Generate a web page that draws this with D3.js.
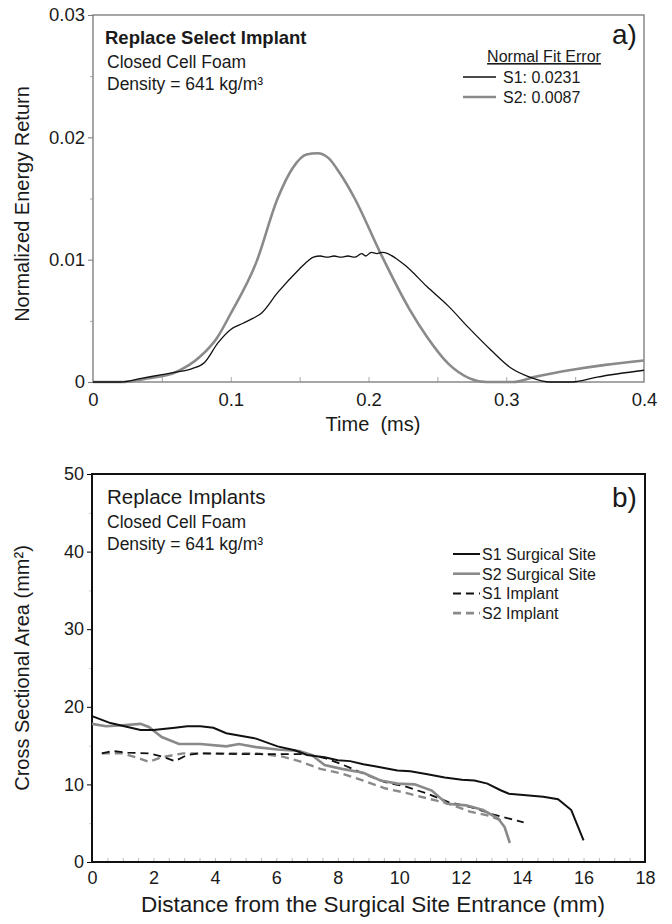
<!DOCTYPE html>
<html>
<head>
<meta charset="utf-8">
<script src="https://cdn.jsdelivr.net/npm/d3@7"></script>
<style>
  body { margin: 0; background: #fff; }
  text { font-family: "Liberation Sans", Arial, sans-serif; fill: #1a1a1a; }
</style>
</head>
<body>
<svg id="fig" width="672" height="924"></svg>
<script>
// ---- panel a: energy return vs time ----
const timeTicks = [0, 0.1, 0.2, 0.3, 0.4]
const energyTicks = [0, 0.01, 0.02, 0.03]

// S1, black thin line (time ms, normalized energy)
const s1Energy = [
  [0, 0], [0.02, 0], [0.035, 0.0003], [0.05, 0.0006], [0.06, 0.0008], [0.072, 0.0011],
  [0.081, 0.0016], [0.0907, 0.0032], [0.1, 0.0043], [0.109, 0.0048], [0.116, 0.0052],
  [0.122, 0.0056], [0.134, 0.0073], [0.1495, 0.0092], [0.156, 0.0099], [0.16, 0.0102],
  [0.165, 0.0103], [0.17, 0.0102], [0.175, 0.0103], [0.18, 0.0102], [0.185, 0.0103],
  [0.19, 0.0102], [0.195, 0.0105], [0.198, 0.0103], [0.202, 0.0106], [0.206, 0.0105],
  [0.21, 0.0106], [0.214, 0.0105], [0.22, 0.0101], [0.227, 0.0095], [0.2424, 0.0078],
  [0.258, 0.0062], [0.273, 0.0044], [0.289, 0.0026], [0.304, 0.0011], [0.317, 0.0004],
  [0.332, 0], [0.348, 0], [0.366, 0.0004], [0.4, 0.00096]
]

// S2, gray thick line
const s2Energy = [
  [0, 0], [0.0226, 0], [0.04, 0.0003], [0.06, 0.0008], [0.078, 0.0021], [0.09, 0.0036],
  [0.1, 0.0056], [0.1186, 0.0098], [0.134, 0.015], [0.145, 0.0175], [0.155, 0.0186],
  [0.163, 0.0187], [0.171, 0.0183], [0.179, 0.0171], [0.19, 0.015], [0.2084, 0.0106],
  [0.23, 0.0059], [0.2424, 0.0037], [0.2579, 0.0015], [0.2734, 0.0003], [0.2858, 0],
  [0.305, 0], [0.32, 0.0004], [0.348, 0.001], [0.372, 0.0014], [0.4, 0.00176]
]

const fitErrors = ["S1: 0.0231", "S2: 0.0087"]

// ---- panel b: cross sectional area vs distance ----
const distTicks = [0, 2, 4, 6, 8, 10, 12, 14, 16, 18]
const areaTicks = [0, 10, 20, 30, 40, 50]

const s1Site = [
  [0, 18.8], [0.6, 17.9], [1.16, 17.4], [1.58, 17.0], [2.0, 17.0], [2.7, 17.3], [3.1, 17.5],
  [3.53, 17.5], [3.95, 17.3], [4.37, 16.6], [4.78, 16.3], [5.34, 15.9], [6.04, 14.9],
  [6.6, 14.4], [7.0, 13.8], [7.57, 13.5], [8.0, 13.1], [8.4, 13.0], [8.83, 12.6], [9.25, 12.3],
  [9.94, 11.8], [10.36, 11.7], [10.92, 11.3], [11.48, 10.9], [12.04, 10.6], [12.45, 10.5],
  [12.87, 10.1], [13.3, 9.25], [13.57, 8.8], [14.13, 8.6], [14.69, 8.4], [15.17, 8.1],
  [15.6, 6.7], [16.0, 2.8]
]
const s2Site = [
  [0, 17.8], [0.46, 17.5], [0.88, 17.6], [1.58, 17.8], [1.85, 17.4], [2.27, 16.1], [2.83, 15.2],
  [3.53, 15.2], [4.37, 14.9], [4.78, 15.2], [5.34, 14.8], [6.04, 14.5], [6.74, 14.3],
  [7.15, 13.8], [7.57, 12.5], [8.13, 12.0], [8.83, 11.5], [9.39, 10.5], [9.94, 10.1],
  [10.5, 10.0], [11.06, 9.2], [11.55, 7.5], [12.18, 7.3], [12.73, 6.7], [13.22, 5.6],
  [13.43, 4.5], [13.6, 2.45]
]
const s1Implant = [
  [0.32, 14.0], [0.67, 14.3], [1.16, 14.1], [1.85, 14.0], [2.27, 13.6], [2.7, 13.0], [3.1, 13.8],
  [3.53, 14.0], [4.78, 13.9], [6.18, 13.9], [7.0, 13.9], [7.57, 13.4], [8.13, 12.6],
  [8.83, 11.4], [9.53, 10.3], [10.22, 9.7], [10.92, 8.8], [11.62, 7.7], [12.3, 7.1],
  [13.0, 6.2], [14.05, 5.1]
]
const s2Implant = [
  [0.32, 14.0], [1.0, 14.0], [1.58, 13.3], [1.85, 12.9], [2.27, 13.5], [2.97, 14.0], [3.95, 14.0],
  [5.34, 14.0], [6.18, 13.6], [6.74, 13.0], [7.43, 12.0], [8.13, 11.4], [8.83, 10.5],
  [9.53, 9.5], [10.22, 8.9], [10.92, 8.2], [11.62, 7.5], [12.3, 6.5], [12.87, 6.0], [13.3, 5.4]
]
const legendB = ["S1 Surgical Site", "S2 Surgical Site", "S1 Implant", "S2 Implant"]

const svg = d3.select("#fig")
const gray = "#8a8a8a"

// ================= panel a =================
const a = { left: 93, right: 644, top: 15, bottom: 382 }
const xA = d3.scaleLinear().domain([0, 0.4]).range([a.left, a.right])
const yA = d3.scaleLinear().domain([0, 0.03]).range([a.bottom, a.top])

const gA = svg.append("g")

// minor inward ticks on x
gA.append("g")
  .attr("transform", `translate(0,${a.bottom})`)
  .call(d3.axisTop(xA).tickValues(d3.range(0.05, 0.4, 0.05)).tickSize(5).tickFormat(""))
  .call((g) => g.select(".domain").remove())
  .call((g) => g.selectAll("line").attr("stroke", "#aaa"))

gA.append("g")
  .attr("transform", `translate(0,${a.bottom})`)
  .call(d3.axisBottom(xA).tickValues(timeTicks).tickSize(0).tickPadding(11)
    .tickFormat((d) => (d === 0 ? "0" : d3.format(".1f")(d))))
  .call((g) => g.select(".domain").remove())
  .call((g) => g.selectAll("text").attr("font-size", 18.5).attr("font-family", "Liberation Sans"))

gA.append("g")
  .attr("transform", `translate(${a.left},0)`)
  .call(d3.axisLeft(yA).tickValues([0.005, 0.015, 0.025]).tickSize(3).tickFormat(""))
  .call((g) => g.select(".domain").remove())
  .call((g) => g.selectAll("line").attr("stroke", "#aaa"))

gA.append("g")
  .attr("transform", `translate(${a.left},0)`)
  .call(d3.axisLeft(yA).tickValues(energyTicks).tickSize(5).tickPadding(3)
    .tickFormat((d) => (d === 0 ? "0" : d3.format(".2f")(d))))
  .call((g) => g.select(".domain").remove())
  .call((g) => g.selectAll("line").attr("stroke", "#777"))
  .call((g) => g.selectAll("text").attr("font-size", 18.5).attr("font-family", "Liberation Sans"))

gA.append("rect")
  .attr("x", a.left).attr("y", a.top)
  .attr("width", a.right - a.left).attr("height", a.bottom - a.top)
  .attr("fill", "none").attr("stroke", "#808080").attr("stroke-width", 1.4)

const lineA = d3.line().x((d) => xA(d[0])).y((d) => yA(d[1])).curve(d3.curveMonotoneX)

gA.append("path").datum(s2Energy)
  .attr("d", lineA).attr("fill", "none").attr("stroke", gray).attr("stroke-width", 2.6)
gA.append("path").datum(s1Energy)
  .attr("d", lineA).attr("fill", "none").attr("stroke", "#111").attr("stroke-width", 1.3)

gA.append("text").attr("x", 105).attr("y", 44)
  .attr("font-family", "Lato").attr("font-weight", "bold").attr("font-size", 18.5)
  .text("Replace Select Implant")
gA.append("text").attr("x", 107).attr("y", 68).attr("font-size", 17.5).text("Closed Cell Foam")
gA.append("text").attr("x", 107).attr("y", 90).attr("font-size", 17.5).text("Density = 641 kg/m³")

gA.append("text").attr("x", 612).attr("y", 44).attr("font-size", 28).text("a)")

gA.append("text").attr("x", 544).attr("y", 62).attr("text-anchor", "middle")
  .attr("font-size", 16).attr("text-decoration", "underline").text("Normal Fit Error")
const legA = gA.selectAll(".legA").data(fitErrors).enter().append("g")
  .attr("class", "legA").attr("transform", (d, i) => `translate(0,${77 + i * 20})`)
legA.append("line").attr("x1", 463).attr("x2", 496)
  .attr("stroke", (d, i) => (i === 0 ? "#111" : gray)).attr("stroke-width", (d, i) => (i === 0 ? 1.6 : 2.6))
legA.append("text").attr("x", 503).attr("y", 6).attr("font-size", 16).text((d) => d)

gA.append("text").attr("x", 373).attr("y", 431).attr("text-anchor", "middle")
  .attr("font-size", 20).attr("xml:space", "preserve").text("Time  (ms)")
gA.append("text").attr("transform", "translate(29,204) rotate(-90)").attr("text-anchor", "middle")
  .attr("font-size", 20).text("Normalized Energy Return")

// ================= panel b =================
const b = { left: 92, right: 645, top: 474, bottom: 862 }
const xB = d3.scaleLinear().domain([0, 18]).range([b.left, b.right])
const yB = d3.scaleLinear().domain([0, 50]).range([b.bottom, b.top])

const gB = svg.append("g")

gB.append("g")
  .attr("transform", `translate(0,${b.bottom})`)
  .call(d3.axisTop(xB).tickValues(d3.range(0.5, 18, 0.5)).tickSize(4).tickFormat(""))
  .call((g) => g.select(".domain").remove())
  .call((g) => g.selectAll("line").attr("stroke", "#bbb"))

gB.append("g")
  .attr("transform", `translate(0,${b.bottom})`)
  .call(d3.axisBottom(xB).tickValues(distTicks).tickSize(0).tickPadding(9))
  .call((g) => g.select(".domain").remove())
  .call((g) => g.selectAll("text").attr("font-size", 18).attr("font-family", "Liberation Sans"))

gB.append("g")
  .attr("transform", `translate(${b.left},0)`)
  .call(d3.axisLeft(yB).tickValues([5, 15, 25, 35, 45]).tickSize(3).tickFormat(""))
  .call((g) => g.select(".domain").remove())
  .call((g) => g.selectAll("line").attr("stroke", "#ccc"))

gB.append("g")
  .attr("transform", `translate(${b.left},0)`)
  .call(d3.axisLeft(yB).tickValues(areaTicks).tickSize(5).tickPadding(3))
  .call((g) => g.select(".domain").remove())
  .call((g) => g.selectAll("text").attr("font-size", 18).attr("font-family", "Liberation Sans"))

gB.append("rect")
  .attr("x", b.left).attr("y", b.top)
  .attr("width", b.right - b.left).attr("height", b.bottom - b.top)
  .attr("fill", "none").attr("stroke", "#111").attr("stroke-width", 2)

const lineB = d3.line().x((d) => xB(d[0])).y((d) => yB(d[1]))

gB.append("path").datum(s2Implant).attr("d", lineB).attr("fill", "none")
  .attr("stroke", gray).attr("stroke-width", 2.4).attr("stroke-dasharray", "8,5")
gB.append("path").datum(s1Implant).attr("d", lineB).attr("fill", "none")
  .attr("stroke", "#111").attr("stroke-width", 1.8).attr("stroke-dasharray", "8,5")
gB.append("path").datum(s2Site).attr("d", lineB).attr("fill", "none")
  .attr("stroke", gray).attr("stroke-width", 2.6)
gB.append("path").datum(s1Site).attr("d", lineB).attr("fill", "none")
  .attr("stroke", "#111").attr("stroke-width", 2)

gB.append("text").attr("x", 107).attr("y", 504).attr("font-size", 20.5).text("Replace Implants")
gB.append("text").attr("x", 107).attr("y", 528).attr("font-size", 17.5).text("Closed Cell Foam")
gB.append("text").attr("x", 107).attr("y", 550).attr("font-size", 17.5).text("Density = 641 kg/m³")

gB.append("text").attr("x", 612).attr("y", 507).attr("font-size", 28).text("b)")

const legB = gB.selectAll(".legB").data(legendB).enter().append("g")
  .attr("class", "legB").attr("transform", (d, i) => `translate(0,${554 + i * 19.7})`)
legB.append("line").attr("x1", 453).attr("x2", 480)
  .attr("stroke", (d, i) => (i % 2 === 0 ? "#111" : gray))
  .attr("stroke-width", (d, i) => (i % 2 === 0 ? 2 : 2.6))
  .attr("stroke-dasharray", (d, i) => (i < 2 ? null : "8,5"))
legB.append("text").attr("x", 482).attr("y", 6).attr("font-size", 16).text((d) => d)

gB.append("text").attr("x", 373).attr("y", 912).attr("text-anchor", "middle")
  .attr("font-family", "Lato").attr("font-size", 22.5)
  .text("Distance from the Surgical Site Entrance (mm)")
gB.append("text").attr("transform", "translate(29,668) rotate(-90)").attr("text-anchor", "middle")
  .attr("font-size", 20).text("Cross Sectional Area (mm²)")
</script>
</body>
</html>
